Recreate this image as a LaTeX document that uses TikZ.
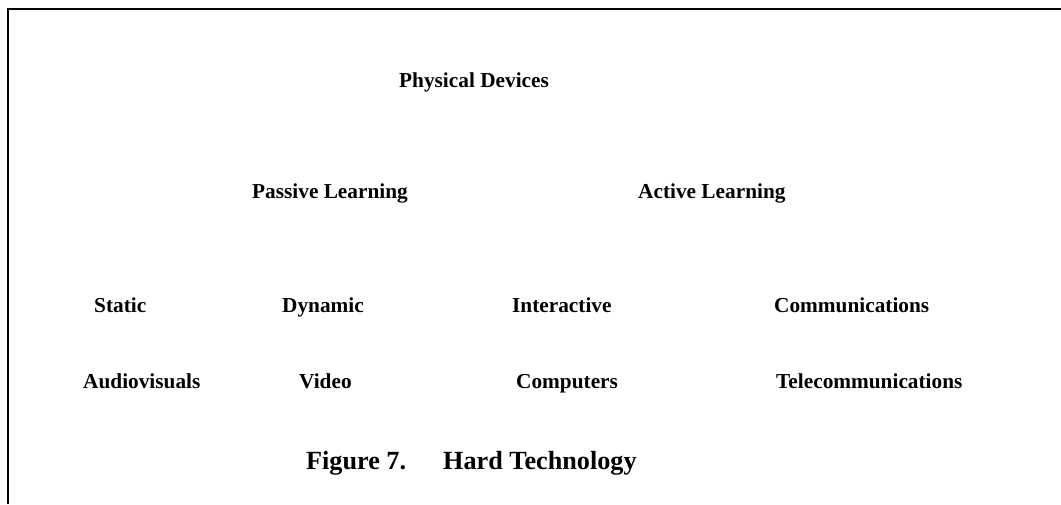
\documentclass[tikz,border=0pt]{standalone}
\usepackage{fontspec}
\setmainfont{Liberation Serif}
\tikzset{
  lbl/.style={anchor=base west, inner sep=0pt, font=\fontsize{21.3}{25}\selectfont\bfseries},
  captext/.style={anchor=base west, inner sep=0pt, font=\fontsize{26.2}{31}\selectfont\bfseries}
}
\begin{document}
\begin{tikzpicture}[x=1pt,y=-1pt]
\useasboundingbox (0,0) rectangle (1061,504);
% frame
\draw[line width=2pt] (8.3,504) -- (8.3,9.3) -- (1061,9.3);
% top
\node[lbl] (phys) at (399,87) {Physical Devices};
% learning modes
\node[lbl] (passive) at (252,198) {Passive Learning};
\node[lbl] (active) at (638,198) {Active Learning};
% kinds
\node[lbl] (static) at (94,312) {Static};
\node[lbl] (dynamic) at (282,312) {Dynamic};
\node[lbl] (inter) at (512,312) {Interactive};
\node[lbl] (comm) at (774,312) {Communications};
% examples
\node[lbl] (audio) at (83,388) {Audiovisuals};
\node[lbl] (video) at (299,388) {Video};
\node[lbl] (comp) at (516,388) {Computers};
\node[lbl] (tele) at (776,388) {Telecommunications};
% caption
\node[captext] (fignum) at (306,469) {Figure 7.};
\node[captext] (figtitle) at (443,469) {Hard Technology};
\end{tikzpicture}
\end{document}
